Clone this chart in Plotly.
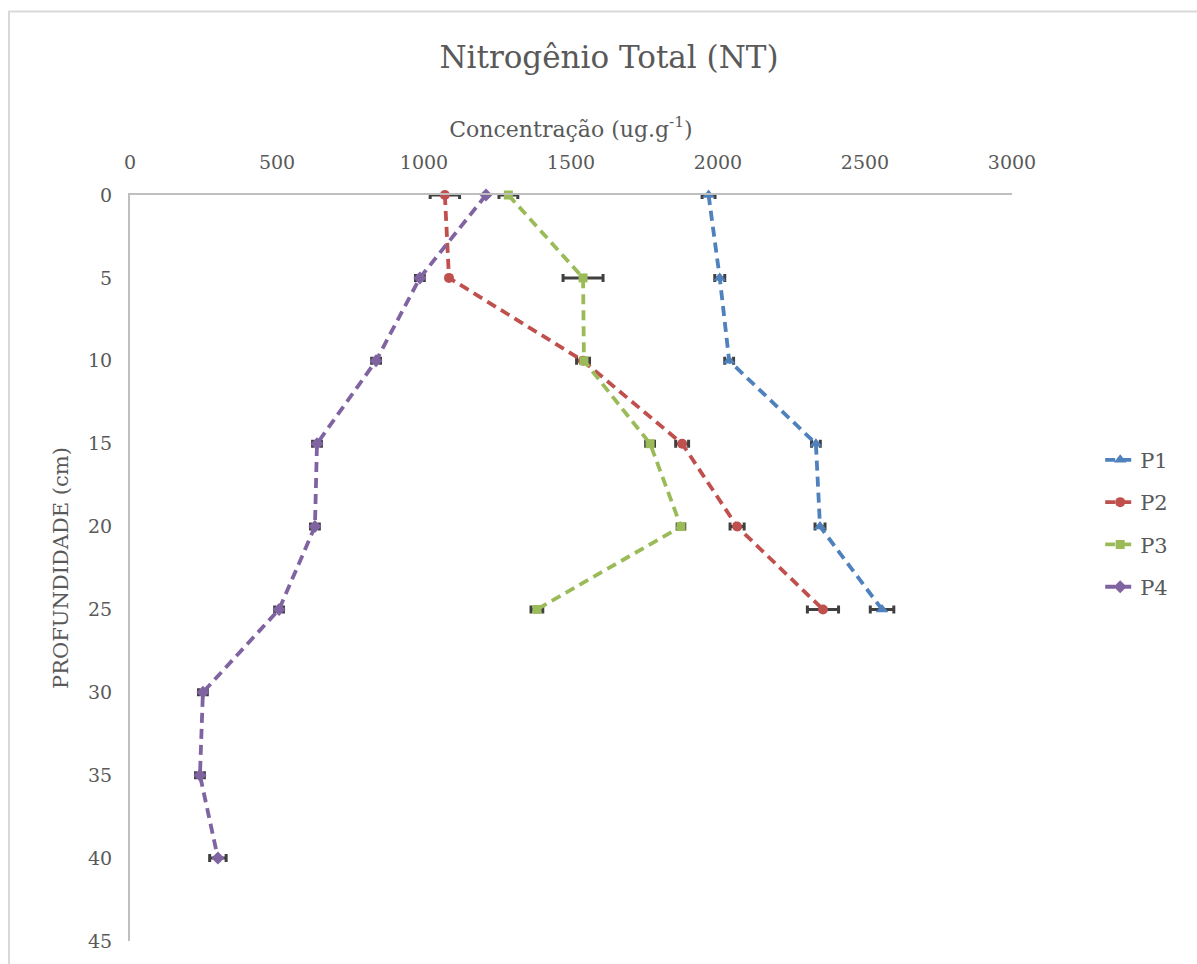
import plotly.graph_objects as go

# Depth profile of total nitrogen at four sampling points
depth = [0, 5, 10, 15, 20, 25, 30, 35, 40]

p1 = [1968, 2006, 2038, 2333, 2347, 2558]
p1_err = [22, 17, 15, 15, 17, 40]

p2 = [1071, 1085, 1541, 1878, 2065, 2357]
p2_err = [50, 4, 22, 22, 24, 53]

p3 = [1287, 1541, 1544, 1769, 1874, 1384]
p3_err = [32, 68, 8, 15, 13, 20]

p4 = [1211, 986, 837, 636, 629, 507, 248, 238, 299]
p4_err = [0, 15, 15, 15, 15, 15, 15, 15, 28]

series = [
    ("P1", p1, p1_err, "#4F81BD", "triangle-up", 11),
    ("P2", p2, p2_err, "#C0504D", "circle", 10),
    ("P3", p3, p3_err, "#9BBB59", "square", 9),
    ("P4", p4, p4_err, "#8064A2", "diamond", 10),
]

FONT = "DejaVu Serif"
TXT = "#595959"
AXIS = "#BFBFBF"

fig = go.Figure()
for name, vals, err, color, symbol, size in series:
    fig.add_trace(go.Scatter(
        x=vals,
        y=depth[:len(vals)],
        name=name,
        mode="lines+markers",
        line=dict(color=color, width=3.8, dash="10px,6px"),
        marker=dict(color=color, symbol=symbol, size=size),
        error_x=dict(type="data", array=err, visible=True,
                     color="#404040", thickness=3, width=4),
        cliponaxis=False,
        legendgroup=name,
    ))

fig.update_layout(
    width=1197,
    height=964,
    paper_bgcolor="white",
    plot_bgcolor="white",
    margin=dict(l=130, r=185, t=195, b=21),
    font=dict(family=FONT, color=TXT, size=18),
    title=dict(
        text="Nitrogênio Total (NT)",
        x=609 / 1197, xref="container", xanchor="center",
        y=1 - 57 / 964, yref="container", yanchor="middle",
        font=dict(family=FONT, size=31, color=TXT),
    ),
    xaxis=dict(
        side="top",
        range=[0, 3000],
        tickvals=[0, 500, 1000, 1500, 2000, 2500, 3000],
        showgrid=False,
        zeroline=False,
        showline=True,
        linecolor=AXIS,
        linewidth=2,
        ticks="",
        ticklabelstandoff=16,
        tickfont=dict(size=19, color=TXT),
        title=dict(text="Concentração (ug.g<sup>-1</sup>)",
                   font=dict(size=22, color=TXT), standoff=8),
    ),
    yaxis=dict(
        range=[45, 0],
        tickvals=[0, 5, 10, 15, 20, 25, 30, 35, 40, 45],
        showgrid=False,
        zeroline=False,
        showline=True,
        linecolor=AXIS,
        linewidth=2,
        ticks="",
        ticklabelstandoff=12,
        tickfont=dict(size=19, color=TXT),
        title=dict(text="PROFUNDIDADE (cm)",
                   font=dict(size=21, color=TXT), standoff=14),
    ),
    legend=dict(
        x=1.1, xanchor="left",
        y=0.672, yanchor="top",
        font=dict(size=21, color=TXT),
        traceorder="grouped",
        tracegroupgap=12,
        bgcolor="rgba(0,0,0,0)",
    ),
    shapes=[
        # outer chart frame
        dict(type="rect", xref="paper", yref="paper",
             x0=-121 / 882, x1=1.35, y0=-0.1, y1=(943 - 11) / 748,
             line=dict(color="#D9D9D9", width=2), fillcolor="rgba(0,0,0,0)",
             layer="below"),
    ],
)

fig.write_html("out.html")
